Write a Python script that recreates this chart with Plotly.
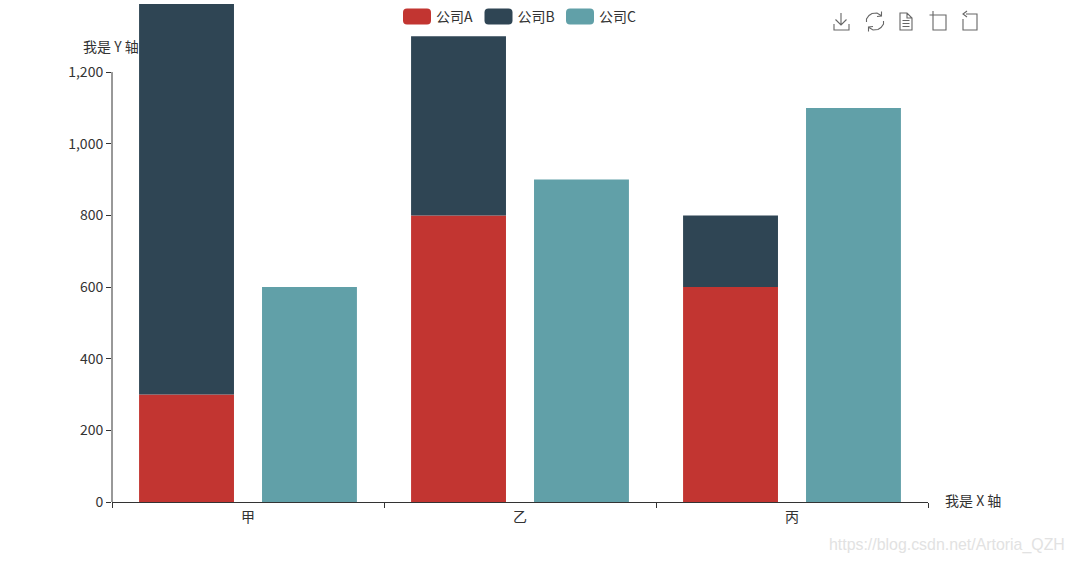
import plotly.graph_objects as go

categories = ["甲", "乙", "丙"]
company_a = [300, 800, 600]
company_b = [1100, 500, 200]
company_c = [600, 900, 1100]
tick_values = [0, 200, 400, 600, 800, 1000, 1200]

W, H = 1073, 564
L, R, T, B = 112, 928, 4, 502
FONT = "Noto Sans CJK SC"
TXT = "#333333"

def px(x):
    return (x - L) / (R - L)

def py(y):
    return (B - y) / (B - T)

def icon(polylines):
    d = []
    for pts in polylines:
        closed = pts[-1] == "Z"
        if closed:
            pts = pts[:-1]
        for i in range(0, len(pts), 2):
            d.append(("M" if i == 0 else "L") + f"{px(pts[i]):.5f},{py(pts[i+1]):.5f}")
        if closed:
            d.append("Z")
    return dict(type="path", xref="paper", yref="paper", path=" ".join(d),
                line=dict(color="#666666", width=1.1), fillcolor="rgba(0,0,0,0)", layer="above")

fig = go.Figure()
fig.add_bar(name="公司A", x=categories, y=company_a, marker_color="#c23531", offsetgroup="stack")
fig.add_bar(name="公司B", x=categories, y=company_b, base=company_a, marker_color="#2f4554", offsetgroup="stack")
fig.add_bar(name="公司C", x=categories, y=company_c, marker_color="#61a0a8", offsetgroup="single")
for t in fig.data:
    t.marker.line.width = 0
    t.hoverinfo = "skip"

shapes = [
    dict(type="line", xref="x domain", yref="y", x0=0, x1=0, y0=0, y1=tick_values[-1],
         line=dict(color=TXT, width=1), layer="above"),
    # toolbox: save
    icon([[841, 13, 841, 25], [835.5, 19.5, 841, 25, 846.5, 19.5], [834, 24, 834, 30, 849, 30, 849, 24]]),
    # toolbox: restore
    icon([[866.5, 22, 866.5, 19, 869, 15.5, 872, 13.5, 877, 13, 881, 15.5], [881.5, 11.5, 881.5, 16, 877, 16.5],
          [883.5, 21, 883.5, 24, 881, 27.5, 878, 29.5, 873, 30, 869, 27.5], [868.5, 31.5, 868.5, 27, 873, 26.5]]),
    # toolbox: data view
    icon([[900, 13, 907, 13, 912, 18, 912, 30, 900, 30, "Z"], [907, 13, 907, 18, 912, 18],
          [902.5, 20.5, 909.5, 20.5], [902.5, 23.5, 909.5, 23.5], [902.5, 26.5, 909.5, 26.5]]),
    # toolbox: zoom
    icon([[937, 15, 946, 15, 946, 30, 933, 30, 933, 19], [929.5, 15, 937, 15], [933, 11, 933, 19]]),
    # toolbox: back
    icon([[966, 14, 977, 14, 977, 30, 963, 30, 963, 19], [967, 11, 963, 14, 967, 17]]),
]

annotations = [
    dict(text="我是 Y 轴", xref="paper", yref="paper", x=px(81), y=py(46), xanchor="left", yanchor="middle",
         showarrow=False, font=dict(size=14, color=TXT, family=FONT)),
    dict(text="我是 X 轴", xref="paper", yref="paper", x=px(943), y=py(500), xanchor="left", yanchor="middle",
         showarrow=False, font=dict(size=14, color=TXT, family=FONT)),
    dict(text="https://blog.csdn.net/Artoria_QZH", xref="paper", yref="paper", x=px(1067), y=py(545),
         xanchor="right", yanchor="middle", showarrow=False,
         font=dict(size=15.9, color="#e2e2e2", family="Liberation Sans")),
]

fig.update_layout(
    width=W, height=H,
    margin=dict(l=L, r=W - R, t=T, b=H - B, pad=0, autoexpand=False),
    paper_bgcolor="white", plot_bgcolor="white",
    barmode="group", bargap=0.096, bargroupgap=0.228,
    font=dict(family=FONT, size=14, color=TXT),
    shapes=shapes, annotations=annotations,
    legend=dict(orientation="h", x=px(396), xanchor="left", y=py(1), yanchor="top",
                font=dict(size=14, color=TXT, family=FONT),
                entrywidth=36.5, entrywidthmode="pixels", bgcolor="rgba(0,0,0,0)",
                traceorder="normal", itemclick=False, itemdoubleclick=False),
    xaxis=dict(type="category", categoryorder="array", categoryarray=categories, tickson="boundaries",
               ticks="outside", ticklen=5, tickcolor=TXT, tickwidth=1, showline=True, linecolor=TXT, linewidth=1,
               showgrid=False, zeroline=False, tickfont=dict(size=14, color=TXT), ticklabelstandoff=2),
    yaxis=dict(range=[0, 1390], tickmode="array", tickvals=tick_values, tickformat=",d",
               ticks="outside", ticklen=5, tickcolor=TXT, tickwidth=1, showline=False,
               showgrid=False, zeroline=False, tickfont=dict(size=14, color=TXT)),
)

post = """
document.body.style.margin = '0';
var gd = document.getElementById('{plot_id}');
gd.querySelectorAll('.legendpoints path').forEach(function (p) {
  p.setAttribute('d', 'M-9,-8H11Q15,-8 15,-4V4Q15,8 11,8H-9Q-13,8 -13,4V-4Q-13,-8 -9,-8Z');
});
"""
fig.write_html("out.html", post_script=post, config={"displayModeBar": False})
